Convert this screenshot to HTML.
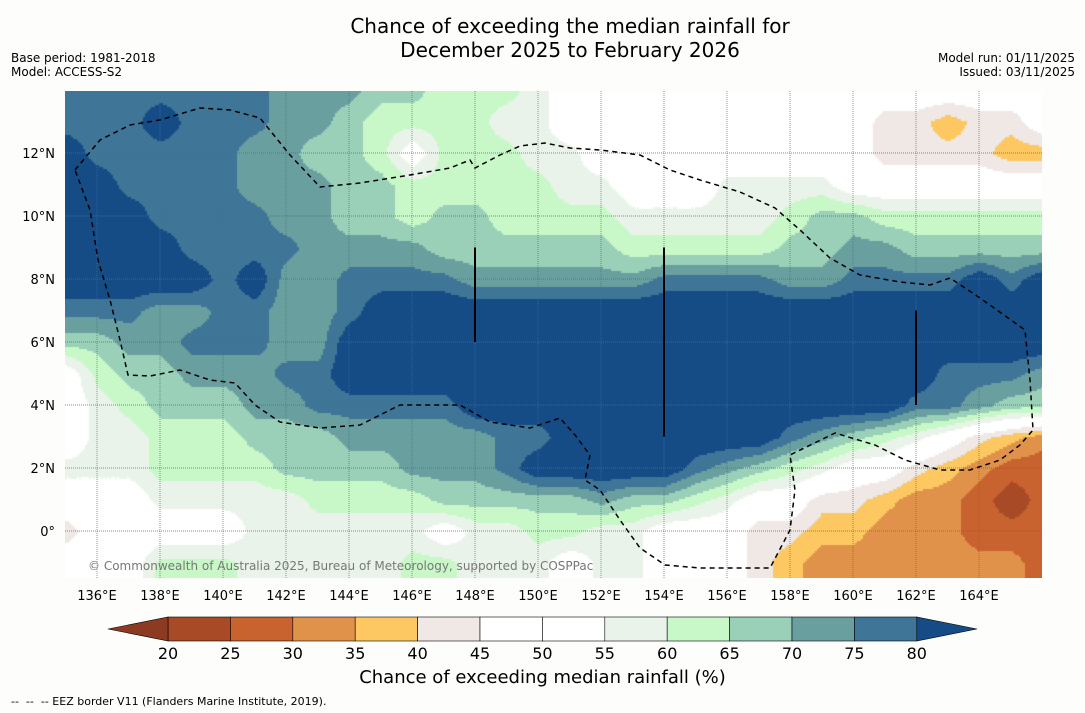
<!DOCTYPE html>
<html><head><meta charset="utf-8">
<style>
body{margin:0;background:#fdfefc;font-family:"DejaVu Sans","Liberation Sans",sans-serif;}
#wrap{position:relative;width:1085px;height:713px;overflow:hidden;background:#fdfefc;}
.t{position:absolute;color:#000;white-space:nowrap;}
</style></head><body>
<div id="wrap">
<div class="t" style="left:0;width:1140px;top:14px;text-align:center;font-size:20px;line-height:24px;">Chance of exceeding the median rainfall for<br>December 2025 to February 2026</div>
<div class="t" style="left:11px;top:51px;font-size:12px;line-height:14px;">Base period: 1981-2018<br>Model: ACCESS-S2</div>
<div class="t" style="right:10px;top:51px;font-size:12px;line-height:14px;text-align:right;">Model run: 01/11/2025<br>Issued: 03/11/2025</div>
<canvas id="map" width="977" height="487" style="position:absolute;left:65px;top:91px;"></canvas>
<svg id="ov" width="1085" height="713" style="position:absolute;left:0;top:0;"></svg>
<div class="t" style="left:0;width:1085px;top:667px;text-align:center;font-size:18px;">Chance of exceeding median rainfall (%)</div>
<div class="t" style="left:11px;top:695px;font-size:11px;">--&nbsp; --&nbsp; -- EEZ border V11 (Flanders Marine Institute, 2019).</div>
</div>
<script>
const lonMin=135, lonMax=166, latMax=14, latMin=-2;
const levels=[20,25,30,35,40,45,50,55,60,65,70,75,80];
const binColors=["#8c3a22","#a94a27","#c8622f","#e0924a","#fdc862","#efe8e4","#ffffff","#ffffff","#eaf3e9","#c8f7c8","#9acfb8","#6a9fa0","#3f7596","#154c86"];
const codeVal={a:22,b:27,c:32,d:37,e:42,f:50,g:57,h:62,i:67,j:72,k:77,l:85};
const rows=[
"kkkkkkkjjjiihhhgffffffffffffffff",
"kkklkkkjjihhhhggffffffffffeedeef",
"lkkkkkjjiihfhhhggfffffffffeeeedd",
"llkkkkjjjiihhhhhggfffggggfffffff",
"lllkkkkjjiihiihhhhggggghiihhhhhh",
"llllkkkkjjjjiiiiiihhhhhiijjiiiii",
"lllllkljjkkkkjjjjjjkkkkjjkkkklkl",
"kkkjjkkjjkllllllllllllllllllllll",
"iijjkkkjjlllllllllllllllllllllll",
"fhiijjjkklllllllllllllllllllkkkj",
"fghiiijjkkkkkllllllllllllllkkjii",
"fgghhhiiijjjjjkklllllllkjihgfedc",
"ggghhhhiiiijjjklllllkjihgffedcbb",
"fffggggghhhhiiiiijiihgffeedccbab",
"efffffggggggfgghhggfffeeddcccbbb",
"fffhhhggggghhgggfggfffedcccccccb",
"fffhhhggggghhgggfggfffedcccccccb"];
const grid=rows.map(r=>{const a=[];for(let i=0;i<32;i++)a.push(codeVal[r[i]||r[r.length-1]]);return a;});
const X0=65.5, PX=31.5, Y0=531;
function xOf(lon){return X0+(lon-135)*PX;}
function yOf(lat){return Y0-lat*PX;}
function colorOf(v){let i=0;while(i<levels.length&&v>=levels[i])i++;return binColors[i];}
function valAt(lon,lat){
 let fx=lon-lonMin; fx=Math.max(0,Math.min(30.999,fx));
 let fy=(latMax-lat); fy=Math.max(0,Math.min(15.999,fy));
 const i=Math.floor(fx),j=Math.floor(fy),dx=fx-i,dy=fy-j;
 const a=grid[j][i],b=grid[j][i+1],c=grid[j+1][i],d=grid[j+1][i+1];
 return a*(1-dx)*(1-dy)+b*dx*(1-dy)+c*(1-dx)*dy+d*dx*dy;
}
const cv=document.getElementById('map'),ctx=cv.getContext('2d');
for(let py=0;py<487;py+=2){for(let px=0;px<977;px+=2){
 const lon=135+(px+65-X0)/PX, lat=(Y0-(py+91))/PX;
 ctx.fillStyle=colorOf(valAt(lon,lat));ctx.fillRect(px,py,2,2);}}
const NS='http://www.w3.org/2000/svg',ov=document.getElementById('ov');
function mk(t,at,txt){const e=document.createElementNS(NS,t);for(const k in at)e.setAttribute(k,at[k]);if(txt!==undefined)e.textContent=txt;ov.appendChild(e);return e;}
const lonTicks=[136,138,140,142,144,146,148,150,152,154,156,158,160,162,164];
const latTicks=[0,2,4,6,8,10,12];
lonTicks.forEach(l=>{const g=mk('line',{x1:xOf(l),x2:xOf(l),y1:91,y2:578,stroke:'#666','stroke-width':0.7,'stroke-dasharray':'1,1'});

const t=mk('text',{x:xOf(l),y:600,'font-size':13,'text-anchor':'middle','font-family':'DejaVu Sans'},l+'°E');
});
latTicks.forEach(l=>{const g=mk('line',{x1:65,x2:1042,y1:yOf(l),y2:yOf(l),stroke:'#666','stroke-width':0.7,'stroke-dasharray':'1,1'});

const t=mk('text',{x:55,y:yOf(l)+5,'font-size':13,'text-anchor':'end','font-family':'DejaVu Sans'},l===0?'0°':l+'°N');
});
const eez=[[75,170],[100,140],[130,125],[160,120],[200,108],[230,110],[260,118],[290,155],[320,187],[360,183],[410,175],[450,168],[470,160],[475,168],[500,155],[520,146],[545,143],[570,148],[600,150],[640,155],[670,170],[700,180],[740,192],[775,208],[800,230],[830,258],[860,275],[900,282],[930,285],[950,278],[980,298],[1025,330],[1030,380],[1033,430],[1020,445],[1000,460],[970,470],[940,470],[905,460],[875,445],[835,433],[790,455],[795,490],[790,530],[770,568],[740,568],[700,568],[665,565],[640,548],[620,520],[600,490],[585,480],[590,455],[575,435],[560,418],[530,428],[490,422],[460,405],[430,405],[400,405],[360,425],[320,428],[280,422],[255,405],[235,383],[210,380],[180,370],[150,376],[128,375],[120,340],[110,300],[98,260],[90,210],[75,170]];
const ep=mk('polyline',{points:eez.map(p=>p.join(',')).join(' '),fill:'none',stroke:'#000','stroke-width':1.5,'stroke-dasharray':'5,4'});

[[148,9,6],[154,9,3],[162,7,4]].forEach(s=>{const l=mk('line',{x1:xOf(s[0]),x2:xOf(s[0]),y1:yOf(s[1]),y2:yOf(s[2]),stroke:'#000','stroke-width':2});
});
const cr=mk('text',{x:88,y:570,'font-size':12,fill:'#777','font-family':'DejaVu Sans'},'© Commonwealth of Australia 2025, Bureau of Meteorology, supported by COSPPac');

const cbX0=168, cbStep=62.4, cbY=617, cbH=24;
const cbColors=binColors.slice(1,13);
cbColors.forEach((c,i)=>{const r=mk('rect',{x:cbX0+i*cbStep,y:cbY,width:cbStep,height:cbH,fill:c,stroke:'#000','stroke-width':0.6});
});
const lt=mk('polygon',{points:`${cbX0},${cbY} ${cbX0},${cbY+cbH} 108,${cbY+cbH/2}`,fill:'#8c3a22',stroke:'#000','stroke-width':0.6});

const xe=cbX0+12*cbStep;
const rt=mk('polygon',{points:`${xe},${cbY} ${xe},${cbY+cbH} 977,${cbY+cbH/2}`,fill:'#154c86',stroke:'#000','stroke-width':0.6});

levels.forEach((v,i)=>{const t=mk('text',{x:cbX0+i*cbStep,y:cbY+cbH+18,'font-size':16,'text-anchor':'middle','font-family':'DejaVu Sans'},v);
});
</script>
</body></html>
